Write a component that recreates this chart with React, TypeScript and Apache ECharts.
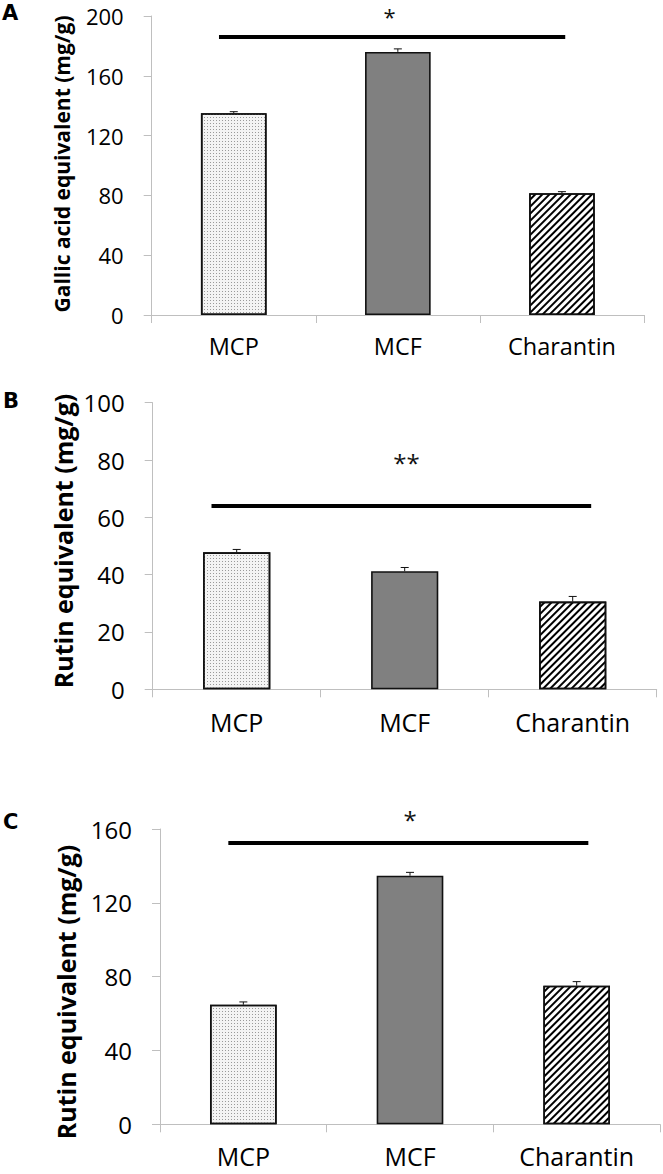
import React, { useEffect, useRef } from "react";
import * as echarts from "echarts";

const categories = ["MCP", "MCF", "Charantin"];

// Panel A – Gallic acid equivalent
const valuesA = [135, 176, 81.5];
const errorsA = [1, 2, 1];
const sigA = { from: -0.09, to: 2.02, y: 186, starX: 0.95, starY: 207.5, label: "*" };
const ticksA = { min: 0, max: 200, interval: 40 };

// Panel B – Rutin equivalent
const valuesB = [47.8, 41.2, 30.6];
const errorsB = [1, 1.3, 1.8];
const sigB = { from: -0.15, to: 2.11, y: 64, starX: 1.01, starY: 79, label: "**" };
const ticksB = { min: 0, max: 100, interval: 20 };

// Panel C – Rutin equivalent
const valuesC = [64.8, 134.7, 75.1];
const errorsC = [1.5, 1.8, 2.2];
const sigC = { from: -0.09, to: 2.07, y: 152.4, starX: 1.0, starY: 165, label: "*" };
const ticksC = { min: 0, max: 160, interval: 40 };

const FONT = "'Open Sans', 'Noto Sans', sans-serif";
const AXIS_GRAY = "#bfbfbf";

const barStyles = [
  {
    color: "#f4f4f4",
    borderColor: "#111",
    borderWidth: 1.6,
    decal: {
      symbol: "rect",
      symbolSize: 1,
      color: "#9a9a9a",
      dashArrayX: [1, 2],
      dashArrayY: [1, 2],
    },
  },
  { color: "#808080", borderColor: "#111", borderWidth: 1.6 },
  {
    color: "#ffffff",
    borderColor: "#111",
    borderWidth: 1.6,
    decal: {
      symbol: "rect",
      symbolSize: 1,
      color: "#000",
      dashArrayX: [1, 0],
      dashArrayY: [2, 2.2],
      rotation: -Math.PI / 4,
    },
  },
];

const grids = [
  { left: 151.7, top: 16, width: 492.3, height: 299 },
  { left: 152.7, top: 402.7, width: 504, height: 286.6 },
  { left: 160, top: 829, width: 500, height: 295.3 },
];

export default function App() {
  const ref = useRef<HTMLDivElement>(null);
  useEffect(() => {
    if (!ref.current) return;
    const chart = echarts.init(ref.current, undefined, { renderer: "svg" });

    const panels = [
      { values: valuesA, errors: errorsA, sig: sigA, ticks: ticksA, tickFont: 22, catFont: 23.5, catMargin: 19, starFont: 22, starAlign: "top" },
      { values: valuesB, errors: errorsB, sig: sigB, ticks: ticksB, tickFont: 24, catFont: 25, catMargin: 20, starFont: 24, starAlign: "middle" },
      { values: valuesC, errors: errorsC, sig: sigC, ticks: ticksC, tickFont: 24, catFont: 25, catMargin: 19, starFont: 24, starAlign: "middle" },
    ];

    const xAxis = panels.map((p, i) => ({
      type: "category",
      gridIndex: i,
      data: categories,
      axisLine: { lineStyle: { color: AXIS_GRAY, width: 1 } },
      axisTick: { show: true, length: 8, lineStyle: { color: AXIS_GRAY } },
      axisLabel: { color: "#000", fontSize: p.catFont, fontFamily: FONT, margin: p.catMargin },
    }));
    const yAxis = panels.map((p, i) => ({
      type: "value",
      gridIndex: i,
      min: p.ticks.min,
      max: p.ticks.max,
      interval: p.ticks.interval,
      axisLine: { show: true, lineStyle: { color: AXIS_GRAY, width: 1 } },
      axisTick: { show: true, length: 8, lineStyle: { color: AXIS_GRAY } },
      splitLine: { show: false },
      axisLabel: { color: "#000", fontSize: p.tickFont, fontFamily: FONT, margin: 28 },
    }));

    const series: any[] = [];
    panels.forEach((p, i) => {
      series.push({
        type: "bar",
        xAxisIndex: i,
        yAxisIndex: i,
        barWidth: "40%",
        data: p.values.map((v, k) => ({ value: v, itemStyle: barStyles[k] })),
      });
      series.push({
        type: "custom",
        xAxisIndex: i,
        yAxisIndex: i,
        clip: false,
        data: p.values.map((v, k) => [k, v, p.errors[k]]),
        renderItem: (params: any, api: any) => {
          const x = api.value(0);
          const y = api.value(1);
          const e = api.value(2);
          const base = api.coord([x, y]);
          const top = api.coord([x, y + e]);
          const style = { stroke: "#111", lineWidth: 1 };
          return {
            type: "group",
            children: [
              { type: "line", shape: { x1: base[0], y1: base[1], x2: top[0], y2: top[1] }, style },
              { type: "line", shape: { x1: top[0] - 4, y1: top[1], x2: top[0] + 4, y2: top[1] }, style },
            ],
          };
        },
        z: 3,
      });
      series.push({
        type: "custom",
        xAxisIndex: i,
        yAxisIndex: i,
        clip: false,
        data: [[0, p.sig.y, p.sig.from, p.sig.to, p.sig.starX, p.sig.starY]],
        renderItem: (params: any, api: any) => {
          const y = api.value(1);
          const p0 = api.coord([0, y]);
          const bw = api.size([1, 0])[0];
          const x1 = p0[0] + api.value(2) * bw;
          const x2 = p0[0] + api.value(3) * bw;
          const sx = p0[0] + api.value(4) * bw;
          const sy = api.coord([0, api.value(5)])[1];
          return {
            type: "group",
            children: [
              { type: "line", shape: { x1, y1: p0[1], x2, y2: p0[1] }, style: { stroke: "#000", lineWidth: 4 } },
              {
                type: "text",
                x: sx,
                y: sy,
                style: {
                  text: p.sig.label,
                  fill: "#111",
                  font: `${p.starFont}px ${FONT}`,
                  textAlign: "center",
                  textVerticalAlign: p.starAlign,
                },
              },
            ],
          };
        },
        z: 4,
      });
    });

    const titleStyle = (text: string, size: number) => ({
      text,
      fill: "#000",
      font: `bold ${size}px ${FONT}`,
      textAlign: "center",
      textVerticalAlign: "middle",
    });
    const letterStyle = (text: string) => ({
      text,
      fill: "#000",
      fontSize: 21,
      fontWeight: "bold",
      fontFamily: "'DejaVu Sans', sans-serif",
      textAlign: "left",
      textVerticalAlign: "middle",
    });

    chart.setOption({
      animation: false,
      grid: grids.map((g) => ({ ...g, containLabel: false })),
      xAxis,
      yAxis,
      series,
      graphic: [
        { type: "text", x: 62, y: 164, rotation: Math.PI / 2, style: titleStyle("Gallic acid equivalent (mg/g)", 21) },
        { type: "text", x: 63, y: 541, rotation: Math.PI / 2, style: titleStyle("Rutin equivalent (mg/g)", 25) },
        { type: "text", x: 66, y: 992, rotation: Math.PI / 2, style: titleStyle("Rutin equivalent (mg/g)", 25) },
        { type: "text", x: 2, y: 13, style: letterStyle("A") },
        { type: "text", x: 3, y: 401, style: letterStyle("B") },
        { type: "text", x: 3, y: 822, style: letterStyle("C") },
      ],
    });
    return () => chart.dispose();
  }, []);

  return (
    <div
      ref={ref}
      style={{ position: "absolute", left: 0, top: 0, width: 663, height: 1174, background: "#fff" }}
    />
  );
}
